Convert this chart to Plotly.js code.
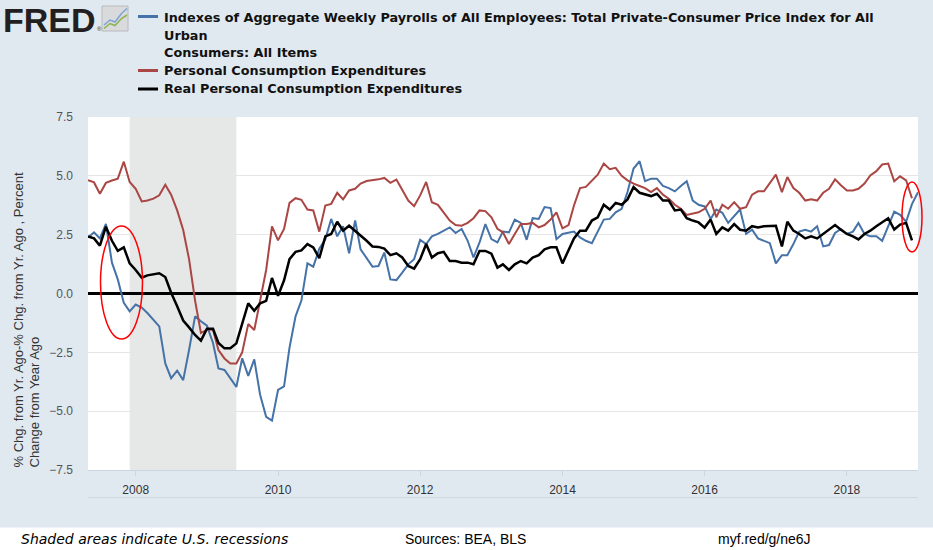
<!DOCTYPE html>
<html>
<head>
<meta charset="utf-8">
<script src="https://cdn.plot.ly/plotly-3.0.1.min.js"></script>
<style>html,body{margin:0;padding:0;background:#e1e9f0;}#chart{width:933px;height:550px;}</style>
</head>
<body>
<div id="chart"></div>
<script>
// Monthly observations, May 2007 onward
const startYear = 2007, startMonth = 5;
const payrollsMinusCPI = [
 2.38,2.6,2.34,2.96,1.31,0.6,-0.4,-0.76,
 -0.47,-0.6,-0.83,-1.11,-1.4,-2.97,-3.6,-3.28,-3.68,-2.4,-0.97,-1.18,
 -1.37,-2.1,-3.18,-3.25,-3.6,-3.97,-2.75,-3.5,-2.8,-4.3,-5.24,-5.4,
 -4.1,-3.95,-2.3,-0.97,-0.3,1.28,1.14,1.9,2.3,3.17,2.43,2.86,
 1.71,3.1,1.88,1.53,1.14,1.17,1.74,0.6,0.57,0.89,1.24,1.46,
 2.28,2.1,2.43,2.53,2.67,2.81,2.57,2.74,2.24,1.53,2.17,2.95,
 2.31,2.17,2.63,2.6,3.14,3.0,2.28,3.2,3.17,3.67,3.63,2.31,
 2.53,2.57,2.63,2.38,2.24,2.14,2.63,3.14,3.17,3.45,3.6,4.31,
 5.31,5.62,4.77,4.88,4.88,4.57,4.48,4.34,4.57,4.77,3.95,3.77,
 3.7,3.17,3.57,3.43,3.0,3.31,3.57,2.53,2.71,2.34,2.24,2.14,
 1.28,1.63,1.63,2.1,2.63,2.71,2.63,2.86,2.0,2.06,2.57,2.74,
 2.53,2.63,3.0,2.53,2.43,2.43,2.24,2.86,3.48,3.34,3.05,3.8,
 4.3
];
const pce = [
 4.81,4.72,4.24,4.7,4.8,4.88,5.6,4.74,
 4.45,3.91,3.95,4.03,4.17,4.62,4.2,3.53,2.7,1.46,-0.3,-1.68,
 -1.54,-1.54,-2.4,-2.76,-2.97,-2.97,-2.5,-1.3,-1.55,-0.3,1.0,2.85,
 2.26,2.74,3.85,4.05,3.98,3.57,3.53,2.63,3.74,3.81,4.28,4.0,
 4.38,4.45,4.67,4.78,4.81,4.85,4.91,4.7,4.84,4.38,3.95,3.71,
 4.17,4.74,3.88,3.77,3.45,3.1,2.91,2.88,3.0,3.2,3.53,3.5,
 3.24,2.75,2.6,2.1,2.53,2.95,2.95,3.0,2.81,2.91,3.14,3.45,
 2.77,2.91,3.74,4.48,4.53,4.81,5.05,5.52,5.28,5.34,5.0,4.81,
 4.67,4.57,4.48,4.31,4.48,4.2,4.03,3.77,3.6,3.34,3.38,3.45,
 3.6,3.95,3.24,3.77,3.6,3.88,3.6,3.67,4.2,4.34,4.34,4.67,
 5.05,4.31,4.95,4.48,4.28,3.95,4.0,3.95,4.28,4.45,4.85,4.6,
 4.38,4.38,4.45,4.67,5.02,5.2,5.48,5.52,4.77,4.98,4.81,4.05
];
const realPce = [
 2.43,2.34,2.03,2.84,2.24,1.81,1.96,1.28,
 1.0,0.67,0.77,0.81,0.86,0.7,0.03,-0.54,-1.15,-1.44,-1.76,-2.0,
 -1.5,-1.5,-2.1,-2.33,-2.33,-2.12,-1.3,-0.42,-0.73,-0.42,-0.31,0.66,
 -0.1,0.56,1.46,1.77,1.83,2.1,1.96,1.5,2.43,2.53,3.05,2.67,
 2.88,2.67,2.48,2.24,2.0,1.98,1.91,1.63,1.71,1.53,1.17,1.06,
 1.46,2.1,1.53,1.71,1.77,1.38,1.38,1.31,1.31,1.24,1.81,1.81,
 1.69,1.1,1.24,1.0,1.24,1.38,1.28,1.53,1.63,1.88,1.96,1.96,
 1.28,1.81,2.34,2.67,2.67,3.1,3.24,3.77,3.57,3.85,3.77,4.0,
 4.52,4.28,4.2,4.14,4.24,3.95,3.95,3.53,3.57,3.2,3.1,3.02,
 2.8,3.14,2.53,2.81,2.67,2.95,2.71,2.67,2.86,2.81,2.86,2.86,
 2.88,2.0,3.05,2.67,2.53,2.34,2.43,2.34,2.53,2.71,2.91,2.71,
 2.53,2.43,2.3,2.53,2.67,2.86,3.03,3.2,2.72,2.93,3.0,2.26
];
const seriesNames = [
 "Indexes of Aggregate Weekly Payrolls of All Employees: Total Private-Consumer Price Index for All<br>Urban<br>Consumers: All Items",
 "Personal Consumption Expenditures",
 "Real Personal Consumption Expenditures"
];
const yTicks = [-7.5,-5,-2.5,0,2.5,5,7.5];
const xTickYears = ["2008","2010","2012","2014","2016","2018"];
const recession = ["2007-12-01","2009-06-01"];

// month strings for the x axis
const months = [];
for (let i = 0; i < payrollsMinusCPI.length; i++) {
  const idx = (startMonth - 1) + i;
  const y = startYear + Math.floor(idx / 12);
  const m = idx % 12 + 1;
  months.push(y + "-" + String(m).padStart(2, "0") + "-01");
}

const W = 933, H = 550, L = 88, R = 918, T = 117, B = 470;
const px = x => (x - L) / (R - L);
const py = y => (B - y) / (B - T);

const colors = ["#4572a7", "#aa4643", "#000000"];
const traces = [
  {x: months, y: payrollsMinusCPI, type: "scatter", mode: "lines", line: {color: colors[0], width: 2}, name: seriesNames[0]},
  {x: months.slice(0, pce.length), y: pce, type: "scatter", mode: "lines", line: {color: colors[1], width: 2}, name: seriesNames[1]},
  {x: months.slice(0, realPce.length), y: realPce, type: "scatter", mode: "lines", line: {color: colors[2], width: 2.5}, name: seriesNames[2]}
];

const shapes = [
  {type: "rect", xref: "paper", yref: "paper", x0: px(0), x1: px(W), y0: py(527.5), y1: py(H + 2), fillcolor: "#ffffff", line: {width: 0}, layer: "below"},
  {type: "rect", xref: "x", yref: "paper", x0: recession[0], x1: recession[1], y0: 0, y1: 1, fillcolor: "#e6e7e7", line: {width: 0}, layer: "between"},
  {type: "line", xref: "paper", yref: "paper", x0: 0, x1: 1, y0: py(497.5), y1: py(497.5), line: {color: "#cfd9e4", width: 1}},
  {type: "line", xref: "paper", yref: "paper", x0: px(138), x1: px(158), y0: py(16.5), y1: py(16.5), line: {color: colors[0], width: 3}},
  {type: "line", xref: "paper", yref: "paper", x0: px(138), x1: px(158), y0: py(70.5), y1: py(70.5), line: {color: colors[1], width: 3}},
  {type: "line", xref: "paper", yref: "paper", x0: px(138), x1: px(158), y0: py(89), y1: py(89), line: {color: colors[2], width: 3}},
  {type: "rect", xref: "paper", yref: "paper", x0: px(102), x1: px(128), y0: py(31), y1: py(6), fillcolor: "#d9dadb", line: {color: "#b9babb", width: 1}},
  {type: "path", xref: "paper", yref: "paper",
   path: "M" + px(104) + "," + py(25) + " L" + px(110) + "," + py(20) + " L" + px(115) + "," + py(22) + " L" + px(121.5) + "," + py(13.5) + " L" + px(127) + "," + py(8.5),
   line: {color: "#7ea3d4", width: 1.5}},
  {type: "path", xref: "paper", yref: "paper",
   path: "M" + px(104) + "," + py(28.5) + " L" + px(110) + "," + py(23.5) + " L" + px(115) + "," + py(25.5) + " L" + px(121.5) + "," + py(18.5) + " L" + px(127) + "," + py(15),
   line: {color: "#8db34e", width: 1.5}},
  {type: "circle", xref: "paper", yref: "paper", x0: px(100.5), x1: px(142.5), y0: py(339), y1: py(226), line: {color: "#ff0000", width: 1.5}},
  {type: "circle", xref: "paper", yref: "paper", x0: px(902), x1: px(922), y0: py(252), y1: py(182), line: {color: "#ff0000", width: 1.5}}
];

const legendFont = {family: "DejaVu Sans, Verdana, sans-serif", size: 12.8, color: "#111111"};
const ann = (text, x, y, font, extra) => Object.assign({
  text: text, xref: "paper", yref: "paper", x: px(x), y: py(y), xanchor: "left", yanchor: "middle",
  showarrow: false, font: font, align: "left"
}, extra || {});

const annotations = [
  ann("<b>FRED</b>", 1, 19.5, {family: "Liberation Sans, Arial, sans-serif", size: 34, color: "#231f20"}),
  ann("®", 95, 29, {family: "Liberation Sans, Arial, sans-serif", size: 6, color: "#231f20"}),
  ann("<b>Indexes of Aggregate Weekly Payrolls of All Employees: Total Private-Consumer Price Index for All</b>", 162, 17.5, legendFont),
  ann("<b>Urban</b>", 162, 35.5, legendFont),
  ann("<b>Consumers: All Items</b>", 162, 53, legendFont),
  ann("<b>Personal Consumption Expenditures</b>", 162, 71, legendFont),
  ann("<b>Real Personal Consumption Expenditures</b>", 162, 89, legendFont),
  ann("% Chg. from Yr. Ago-% Chg. from Yr. Ago , Percent<br>Change from Year Ago", 8, 470,
      {family: "Liberation Sans, Arial, sans-serif", size: 13, color: "#333333"},
      {textangle: -90, xanchor: "left", yanchor: "bottom"}),
  ann("<i>Shaded areas indicate U.S. recessions</i>", 19, 538.5, {family: "DejaVu Sans, Verdana, sans-serif", size: 14, color: "#000000"}),
  ann("Sources: BEA, BLS", 403, 538.5, {family: "Liberation Sans, Arial, sans-serif", size: 14, color: "#000000"}),
  ann("myf.red/g/ne6J", 716, 538.5, {family: "Liberation Sans, Arial, sans-serif", size: 14, color: "#000000"})
];

const layout = {
  width: W, height: H,
  paper_bgcolor: "#e1e9f0", plot_bgcolor: "#ffffff",
  margin: {l: L, r: W - R, t: T, b: H - B, pad: 0},
  showlegend: false,
  hovermode: false,
  xaxis: {
    type: "date",
    range: [months[0], months[months.length - 1]],
    tickvals: xTickYears.map(y => y + "-01-01"),
    ticktext: xTickYears,
    showgrid: false, zeroline: false,
    showline: true, linecolor: "#ccd6e0", linewidth: 1,
    ticks: "outside", ticklen: 5, tickcolor: "#ccd6e0", tickwidth: 1,
    ticklabelstandoff: 4,
    tickfont: {family: "Liberation Sans, Arial, sans-serif", size: 12, color: "#333333"},
    fixedrange: true
  },
  yaxis: {
    range: [-7.5, 7.5],
    tickvals: yTicks,
    tickformat: ".1f",
    showgrid: true, gridcolor: "#e6e6e6", gridwidth: 1,
    zeroline: true, zerolinecolor: "#000000", zerolinewidth: 3,
    showline: false, ticks: "",
    ticklabelstandoff: 14,
    tickfont: {family: "Liberation Sans, Arial, sans-serif", size: 12, color: "#555555"},
    fixedrange: true
  },
  shapes: shapes,
  annotations: annotations
};

Plotly.newPlot("chart", traces, layout, {staticPlot: true, displayModeBar: false});
</script>
</body>
</html>
